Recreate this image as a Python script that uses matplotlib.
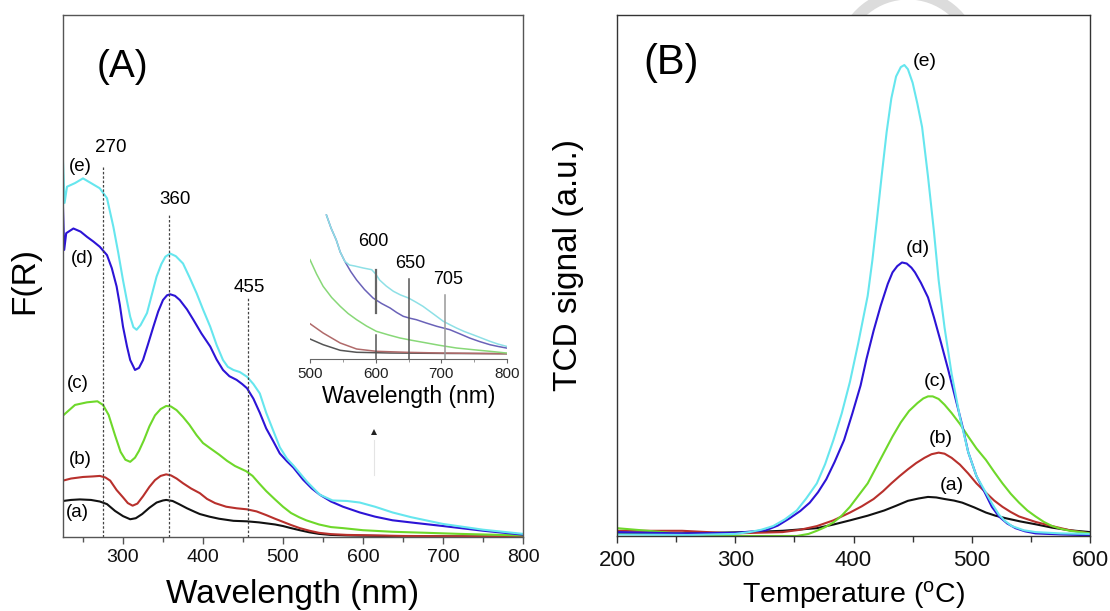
import matplotlib
matplotlib.use("Agg")
import matplotlib.pyplot as plt
from matplotlib.ticker import MultipleLocator
from matplotlib.patches import Arc

plt.rcParams['font.family'] = ['Liberation Sans', 'DejaVu Sans']

# ---------------- Panel A: UV-vis DRS, F(R) (arbitrary units, 0-100 axis height)
wl_a = [225, 235, 246, 260, 271, 280, 290, 300, 309, 316, 324, 333, 342, 350, 354, 362, 370, 380, 390, 396, 408, 420,
        438, 455, 470, 480, 490, 500, 510, 521, 533, 545, 560, 580, 650, 800]
fr_a = [6.9, 7.1, 7.2, 7.1, 6.8, 6.3, 5.0, 4.0, 3.4, 3.6, 4.4, 5.6, 6.6, 7.0, 7.1, 6.9, 6.3, 5.5, 4.8, 4.4, 3.9, 3.5,
        3.1, 3.0, 2.8, 2.6, 2.4, 2.1, 1.7, 1.3, 0.9, 0.6, 0.4, 0.3, 0.15, 0.05]
wl_b = [225, 235, 250, 262, 271, 278, 284, 292, 300, 306, 312, 318, 325, 333, 340, 347, 354, 360, 367, 375, 385, 396,
        405, 415, 429, 442, 455, 467, 479, 490, 500, 510, 521, 533, 545, 560, 580, 650, 800]
fr_b = [10.8, 11.2, 11.5, 11.6, 11.7, 11.4, 10.8, 9.0, 7.6, 6.5, 6.0, 6.4, 7.8, 9.6, 10.9, 11.7, 12.0, 11.8, 11.2, 10.3,
        9.3, 8.4, 7.3, 6.5, 5.8, 5.5, 5.3, 4.9, 4.2, 3.5, 2.9, 2.3, 1.7, 1.2, 0.8, 0.55, 0.4, 0.2, 0.05]
wl_c = [226, 240, 255, 268, 275, 282, 290, 297, 303, 309, 315, 320, 326, 333, 340, 347, 354, 360, 367, 375, 383, 392,
        400, 409, 420, 430, 440, 447, 454, 462, 470, 479, 490, 500, 510, 520, 529, 545, 560, 575, 600, 637, 680, 720, 800]
fr_c = [23.4, 25.3, 25.8, 26.0, 25.3, 23.4, 19.5, 16.3, 14.8, 14.4, 15.2, 16.5, 18.5, 21.2, 23.3, 24.5, 25.1, 25.0,
        24.3, 23.0, 21.5, 19.5, 18.0, 17.0, 15.8, 14.6, 13.6, 13.1, 12.6, 11.7, 10.3, 8.8, 7.2, 5.8, 4.6, 3.8, 3.2, 2.4,
        1.9, 1.7, 1.3, 1.0, 0.8, 0.6, 0.3]
wl_d = [225, 226.5, 229, 238, 247, 255, 263, 271, 280, 286, 292, 296, 300, 305, 309, 315, 320, 325, 331, 338, 344, 350,
        355, 359, 365, 371, 380, 388, 398, 409, 417, 425, 433, 442, 449, 455, 463, 471, 479, 488, 496, 505, 513, 525,
        536, 546, 560, 575, 596, 615, 637, 665, 700, 750, 800]
fr_d = [63.0, 55.0, 58.2, 59.1, 58.5, 57.5, 56.6, 55.6, 54.0, 51.5, 48.0, 44.5, 40.3, 36.5, 33.9, 32.0, 32.4, 33.9,
        36.8, 40.3, 43.2, 45.4, 46.3, 46.5, 46.2, 45.4, 43.6, 41.6, 39.0, 36.5, 34.0, 32.0, 30.8, 30.1, 29.3, 28.5, 26.5,
        23.8, 20.8, 18.3, 16.0, 14.5, 13.3, 11.0, 9.3, 8.1, 6.8, 5.8, 4.7, 3.9, 3.2, 2.7, 2.1, 1.2, 0.45]
wl_e = [225, 227, 230, 240, 250, 260, 271, 280, 288, 294, 300, 305, 309, 313, 317, 322, 330, 336, 342, 348, 353, 359,
        366, 375, 383, 392, 400, 409, 417, 425, 431, 438, 446, 455, 463, 471, 479, 488, 496, 505, 513, 530, 546, 562,
        580, 596, 615, 637, 660, 700, 750, 800]
fr_e = [72.0, 64.0, 67.1, 67.8, 68.7, 67.8, 66.8, 64.9, 59.4, 54.5, 49.2, 45.2, 42.2, 40.2, 39.7, 40.6, 42.9, 46.4,
        49.9, 52.3, 53.7, 54.3, 53.8, 52.4, 49.8, 46.7, 43.6, 40.3, 36.8, 33.9, 32.6, 32.0, 31.6, 30.7, 29.3, 27.5, 23.8,
        20.3, 17.2, 15.0, 13.7, 10.6, 8.1, 7.0, 6.9, 6.6, 5.8, 4.7, 3.8, 2.5, 1.4, 0.6]

# inset (500-800 nm, magnified)
in_wl_a = [500, 520, 546, 571, 622, 700, 799]
in_a = [20, 14.3, 8.7, 6.7, 6.0, 5.6, 5.3]
in_wl_b = [500, 520, 546, 571, 601, 647, 698, 799]
in_b = [35.3, 26, 16, 10, 7.7, 6.7, 6.0, 5.3]
in_wl_c = [500, 510, 520, 533, 546, 558, 571, 586, 601, 620, 637, 655, 672, 697, 723, 750, 774, 799]
in_c = [99.3, 85, 72.7, 61.5, 52.7, 45.5, 39.3, 33.0, 27.7, 24.0, 21, 18.7, 16.7, 13.7, 11, 9.2, 7.7, 6]
in_wl_d = [525, 532, 540, 546, 553, 562, 571, 583, 596, 609, 622, 632, 642, 652, 662, 677, 693, 713, 728, 743, 758, 774, 786, 799]
in_d = [144, 131, 119, 107, 97.7, 87.5, 79, 69.5, 61, 55.5, 51, 46.5, 42.7, 40.8, 39.3, 36, 32.7, 29.3, 25.2, 21, 17.5, 14.3, 12.6, 11]
in_wl_e = [525, 532, 540, 546, 553, 560, 568, 581, 594, 600, 606, 616, 627, 638, 650, 661, 672, 688, 703, 713, 723, 735, 748, 761, 774, 786, 799]
in_e = [144, 131, 119, 107, 97.7, 94, 93, 91, 89.3, 85, 79, 73, 67.7, 64, 61, 57, 52.7, 45, 37.7, 34.3, 31, 27.5, 24.3, 21, 17.7, 15, 12.7]

# ---------------- Panel B: H2-TPR, TCD signal (a.u., 0-100 axis height)
t_a = [200, 255, 312, 340, 369, 383, 397, 412, 426, 436, 446, 455, 463, 470, 477, 485, 492, 502, 512, 520, 529, 541,
       554, 568, 583, 600]
s_a = [0.5, 0.5, 0.75, 1.0, 1.5, 2.2, 3.0, 3.9, 4.9, 5.8, 6.75, 7.2, 7.5, 7.4, 7.1, 6.8, 6.4, 5.5, 4.5, 3.9, 3.4, 2.8,
       2.25, 1.6, 1.1, 0.75]
t_b = [200, 255, 298, 340, 355, 369, 383, 397, 407, 417, 425, 432, 439, 446, 453, 460, 466, 472, 477, 483, 490, 497,
       504, 512, 519, 526, 533, 540, 554, 568, 583, 600]
s_b = [1.0, 1.0, 0.5, 0.75, 1.2, 1.9, 3.0, 4.5, 5.7, 7.1, 8.6, 10.1, 11.5, 12.8, 14.0, 15.0, 15.7, 16.0, 15.8, 15.0,
       13.7, 12.0, 10.1, 8.3, 6.8, 5.6, 4.6, 3.75, 2.7, 1.9, 1.1, 0.5]
t_c = [200, 226, 255, 298, 352, 362, 369, 376, 383, 390, 397, 404, 412, 419, 426, 433, 440, 447, 454, 459, 463, 467,
       472, 477, 483, 490, 497, 504, 512, 519, 526, 533, 540, 547, 554, 561, 568, 575, 583, 600]
s_c = [1.5, 1.0, 0.4, 0.0, 0.0, 0.4, 1.0, 1.7, 2.6, 3.9, 5.6, 7.7, 10.1, 13.1, 16.1, 19.1, 21.8, 24.0, 25.5, 26.4,
       26.8, 26.8, 26.3, 25.2, 23.6, 21.5, 19.1, 16.8, 14.6, 12.3, 10.1, 8.1, 6.4, 4.9, 3.75, 2.7, 1.9, 1.4, 1.0, 0.5]
t_d = [200, 255, 300, 326, 336, 346, 355, 363, 370, 377, 384, 392, 399, 406, 411, 417, 423, 429, 433, 437, 441, 445,
       449, 452, 457, 463, 468, 474, 480, 486, 492, 497, 504, 512, 517, 523, 530, 537, 545, 554, 575, 600]
s_d = [0.75, 0.5, 0.6, 1.1, 2.0, 3.4, 4.8, 6.4, 8.4, 10.9, 14.2, 18.4, 23.5, 28.9, 34.0, 39.4, 44.2, 48.4, 50.6, 51.8,
       52.5, 52.3, 51.5, 50.6, 48.6, 45.8, 42.0, 37.1, 32.0, 26.6, 21.2, 16.1, 11.5, 7.9, 5.6, 3.75, 2.4, 1.5, 0.9, 0.5,
       0.3, 0.15]
t_e = [200, 260, 300, 312, 322, 332, 342, 352, 360, 369, 376, 383, 390, 397, 404, 412, 416, 420, 424, 428, 432, 436,
       440, 443, 446, 450, 454, 458, 463, 468, 472, 477, 483, 490, 497, 504, 512, 518, 523, 528, 534, 544, 554, 575, 600]
s_e = [0.3, 0.2, 0.4, 0.75, 1.2, 1.9, 3.2, 4.9, 7.2, 10.1, 13.8, 18.4, 23.5, 29.6, 37.0, 46.1, 53.0, 61.1, 69.5, 77.5,
       84.0, 88.2, 90.0, 90.4, 89.6, 87.0, 83.0, 78.5, 69.0, 58.5, 49.1, 40.0, 31.1, 22.8, 16.1, 11.5, 8.3, 5.9, 4.1,
       2.9, 1.9, 1.1, 0.75, 0.5, 0.4]

labels = ['(a)', '(b)', '(c)', '(d)', '(e)']
colors = ['#111111', '#b8302c', '#6ed82a', '#2c14d6', '#66e6ee']
inset_colors = ['#555555', '#b06a6a', '#88d878', '#6a62b8', '#8ee0e6']

peaks_a = [275, 358, 456]
peak_tops_a = [70.9, 61.9, 45.8]
peak_txt_a = ['270', '360', '455']
peak_txt_pos_a = [(285, 74.6), (365, 64.7), (458, 47.8)]

fig = plt.figure(figsize=(11.10, 6.11), dpi=100)
W, H = 1110, 611


def ax_px(left, top, right, bottom):
    return [left / W, 1 - bottom / H, (right - left) / W, (bottom - top) / H]


# faint watermark arc at the top (behind the axes)
fig.add_artist(Arc((908 / W, 1 - 62 / H), 2 * 68 / W, 2 * 68 / H, theta1=20, theta2=160,
                   transform=fig.transFigure, color='#dcdcdc', lw=8, zorder=0))

spine_col = '#555555'

# ---------------- Panel A
axA = fig.add_axes(ax_px(63, 15, 523, 537))
seriesA = [(wl_a, fr_a), (wl_b, fr_b), (wl_c, fr_c), (wl_d, fr_d), (wl_e, fr_e)]
for (x, y), c in zip(seriesA, colors):
    axA.plot(x, y, color=c, lw=1.5)
for xp, top in zip(peaks_a, peak_tops_a):
    axA.plot([xp, xp], [0, top], color='#444444', lw=0.9, ls=(0, (2, 1.5)))
for t, (xx, yy) in zip(peak_txt_a, peak_txt_pos_a):
    axA.text(xx, yy, t, fontsize=13.5, ha='center', va='center')
lab_pos_a = [(243, 4.7), (247, 14.8), (243, 29.4), (249, 53.3), (247, 70.9)]
for l, (xx, yy) in zip(labels, lab_pos_a):
    axA.text(xx, yy, l, fontsize=13.5, ha='center', va='center')
axA.text(0.13, 0.90, '(A)', transform=axA.transAxes, fontsize=28, ha='center', va='center')
axA.set_xlim(225, 800)
axA.set_ylim(0, 100)
axA.set_yticks([])
axA.xaxis.set_major_locator(MultipleLocator(100))
axA.xaxis.set_minor_locator(MultipleLocator(50))
axA.tick_params(axis='x', which='major', direction='out', length=5, width=1, labelsize=14, pad=4, colors=spine_col, labelcolor='#111111')
axA.tick_params(axis='x', which='minor', direction='out', length=3.5, width=1, colors=spine_col)
for s in axA.spines.values():
    s.set_color(spine_col)
    s.set_linewidth(1.0)
axA.set_xlabel('Wavelength (nm)', fontsize=24, va='center')
axA.xaxis.set_label_coords(0.5, (537 - 595) / 522)
axA.set_ylabel('F(R)', fontsize=24, va='center')
axA.yaxis.set_label_coords((25 - 63) / 460, (537 - 280) / 522)

# small arrow below the inset
axA.plot([614, 614], [11.9, 18.6], color='#e4e4e4', lw=0.8)
axA.plot([614], [20.1], marker='^', color='#222222', ms=4.5, mew=0)

# inset
axI = fig.add_axes(ax_px(310, 212, 507, 359))
axI.patch.set_alpha(0)
insets = [(in_wl_a, in_a), (in_wl_b, in_b), (in_wl_c, in_c), (in_wl_d, in_d), (in_wl_e, in_e)]
for (x, y), c in zip(insets, inset_colors):
    axI.plot(x, y, color=c, lw=1.1)
axI.plot([600, 600], [46, 88.7], color='#666666', lw=1.6)
axI.plot([600, 600], [0, 24.3], color='#555555', lw=1.1)
axI.plot([650, 650], [0, 80.3], color='#555555', lw=1.1)
axI.plot([705, 705], [0, 64.3], color='#999999', lw=1.1)
for t, (xx, yy) in zip(['600', '650', '705'], [(596, 117.7), (652, 96), (710, 79.3)]):
    axI.text(xx, yy, t, fontsize=13, ha='center', va='center')
axI.set_xlim(500, 800)
axI.set_ylim(0, 147)
axI.set_yticks([])
for side in ['top', 'right', 'left']:
    axI.spines[side].set_visible(False)
axI.spines['bottom'].set_color('#666666')
axI.xaxis.set_major_locator(MultipleLocator(100))
axI.xaxis.set_minor_locator(MultipleLocator(50))
axI.tick_params(axis='x', which='major', direction='out', length=3, labelsize=11, pad=3, colors='#666666', labelcolor='#222222')
axI.tick_params(axis='x', which='minor', direction='out', length=2, colors='#888888')
axI.set_xlabel('Wavelength (nm)', fontsize=16.5, labelpad=3)

# ---------------- Panel B
axB = fig.add_axes(ax_px(617, 15, 1090, 536))
seriesB = [(t_a, s_a), (t_b, s_b), (t_c, s_c), (t_d, s_d), (t_e, s_e)]
for (x, y), c in zip(seriesB, colors):
    axB.plot(x, y, color=c, lw=1.5)
lab_pos_b = [(483, 9.75), (474, 18.75), (469, 29.6), (454, 55.1), (460, 91.1)]
for l, (xx, yy) in zip(labels, lab_pos_b):
    axB.text(xx, yy, l, fontsize=14, ha='center', va='center')
axB.text((671 - 617) / 473, (536 - 63) / 521, '(B)', transform=axB.transAxes, fontsize=30, ha='center', va='center')
axB.set_xlim(200, 600)
axB.set_ylim(0, 100)
axB.set_yticks([])
axB.xaxis.set_major_locator(MultipleLocator(100))
axB.xaxis.set_minor_locator(MultipleLocator(50))
axB.tick_params(axis='x', which='major', direction='out', length=5, width=1, labelsize=16, pad=5, colors='#333333', labelcolor='#111111')
axB.tick_params(axis='x', which='minor', direction='out', length=4, width=1, colors='#333333')
for s in axB.spines.values():
    s.set_color('#333333')
    s.set_linewidth(1.0)
axB.set_xlabel('Temperature ($\\mathregular{^{o}}$C)', fontsize=20.5, va='center')
axB.xaxis.set_label_coords(0.5, (536 - 595) / 521)
axB.set_ylabel('TCD signal (a.u.)', fontsize=24, va='center')
axB.yaxis.set_label_coords((568 - 617) / 473, (536 - 265) / 521)

fig.savefig('out.png', dpi=100)
